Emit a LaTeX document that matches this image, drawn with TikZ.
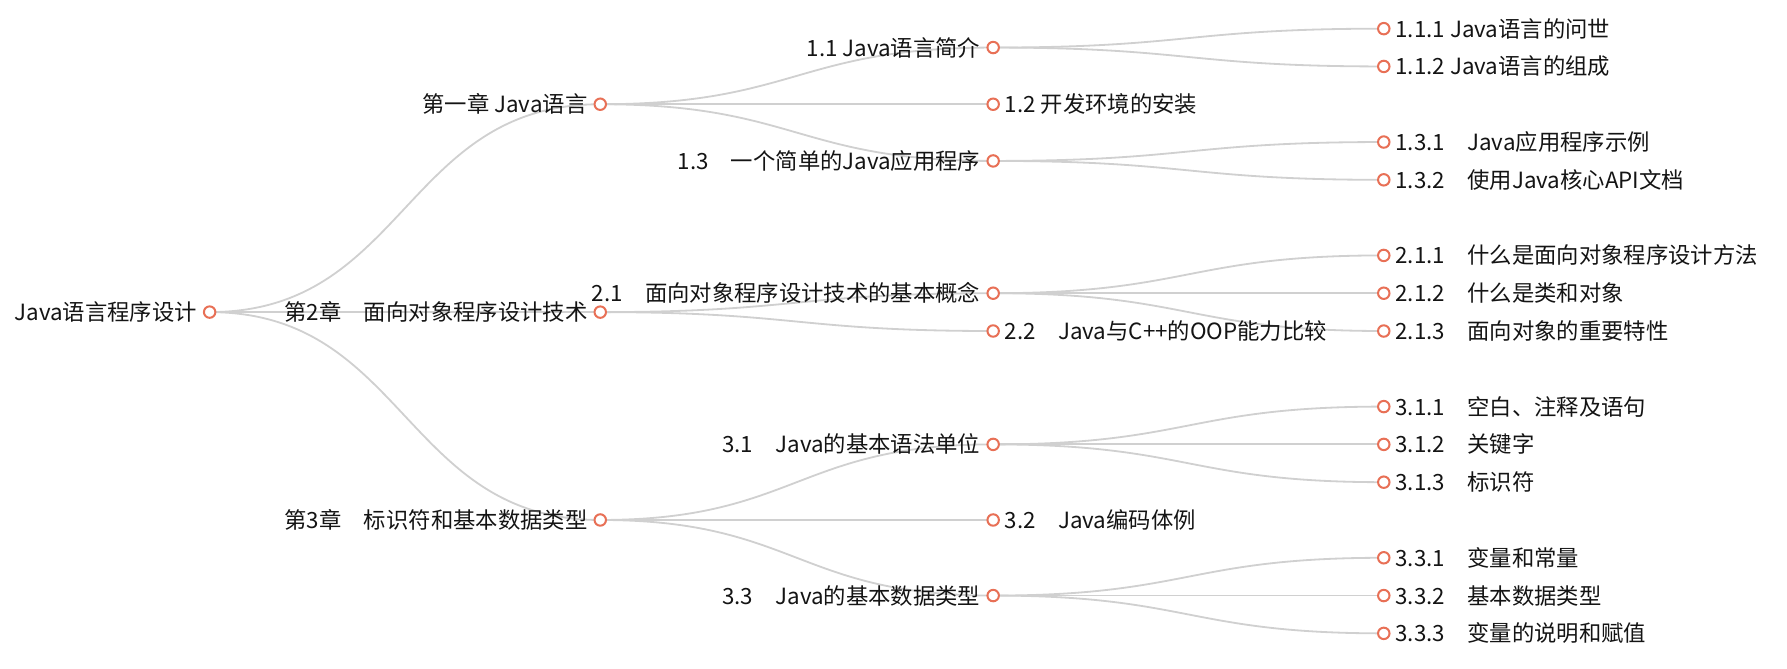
\documentclass[tikz,border=0pt]{standalone}
\usepackage{fontspec}
\setmainfont{Noto Sans CJK SC}
\usepackage{tikz}
\usetikzlibrary{positioning}
\usetikzlibrary{backgrounds}
\tikzstyle{outline} = [x = 0.02cm, y = -0.66cm, every node/.style={font=\fontsize{11.1}{13}\selectfont}]
\definecolor{dotColor}{RGB}{232,112,86}
\definecolor{linkColor}{RGB}{208,208,208}
\definecolor{textColor}{RGB}{20,20,20}
\tikzstyle{dotStyle} = [circle, draw=dotColor, fill=white, line width=1pt, inner sep=0pt, minimum size=0.2cm]
\tikzstyle{linkLine} = [color=linkColor, line width=0.9pt]
\tikzstyle{topicText} = [text=textColor, inner sep=0.1cm]
\newcommand{\half}{171}
\newcommand{\innerTopic}[4]{
  \node [dotStyle] (#1) at (#2,#3) {};
  \node [topicText, left = 0pt of #1] (#1Text) {#4};
}
\newcommand{\leafTopic}[4]{
  \node [dotStyle] (#1) at (#2,#3) {};
  \node [topicText, right = -0.02cm of #1] (#1Text) {#4};
}
\newcommand{\branch}[2]{\draw [linkLine] (#1.center) .. controls +(\half,0) and +(-\half,0) .. (#2.center);}

\begin{document}
\begin{tikzpicture}[outline]
  \useasboundingbox (0,-0.758) rectangle (1560,16.94);
  % root and chapters
  \innerTopic{root}{183}{7.5}{Java语言程序设计}
  \innerTopic{ch1}{524}{2}{第一章 Java语言}
  \innerTopic{ch2}{524}{7.5}{第2章　面向对象程序设计技术}
  \innerTopic{ch3}{524}{13}{第3章　标识符和基本数据类型}
  % sections
  \innerTopic{s11}{867}{0.5}{1.1 Java语言简介}
  \leafTopic{s12}{867}{2}{1.2 开发环境的安装}
  \innerTopic{s13}{867}{3.5}{1.3　一个简单的Java应用程序}
  \innerTopic{s21}{867}{7}{2.1　面向对象程序设计技术的基本概念}
  \leafTopic{s22}{867}{8}{2.2　Java与C++的OOP能力比较}
  \innerTopic{s31}{867}{11}{3.1　Java的基本语法单位}
  \leafTopic{s32}{867}{13}{3.2　Java编码体例}
  \innerTopic{s33}{867}{15}{3.3　Java的基本数据类型}
  % subsections
  \leafTopic{t111}{1208}{0}{1.1.1 Java语言的问世}
  \leafTopic{t112}{1208}{1}{1.1.2 Java语言的组成}
  \leafTopic{t131}{1208}{3}{1.3.1　Java应用程序示例}
  \leafTopic{t132}{1208}{4}{1.3.2　使用Java核心API文档}
  \leafTopic{t211}{1208}{6}{2.1.1　什么是面向对象程序设计方法}
  \leafTopic{t212}{1208}{7}{2.1.2　什么是类和对象}
  \leafTopic{t213}{1208}{8}{2.1.3　面向对象的重要特性}
  \leafTopic{t311}{1208}{10}{3.1.1　空白、注释及语句}
  \leafTopic{t312}{1208}{11}{3.1.2　关键字}
  \leafTopic{t313}{1208}{12}{3.1.3　标识符}
  \leafTopic{t331}{1208}{14}{3.3.1　变量和常量}
  \leafTopic{t332}{1208}{15}{3.3.2　基本数据类型}
  \leafTopic{t333}{1208}{16}{3.3.3　变量的说明和赋值}
  % links
  \begin{scope}[on background layer]
    \foreach \from/\to in {root/ch1, root/ch2, root/ch3,
                           ch1/s11, ch1/s12, ch1/s13, ch2/s21, ch2/s22,
                           ch3/s31, ch3/s32, ch3/s33,
                           s11/t111, s11/t112, s13/t131, s13/t132,
                           s21/t211, s21/t212, s21/t213,
                           s31/t311, s31/t312, s31/t313,
                           s33/t331, s33/t332, s33/t333} {
      \branch{\from}{\to}
    }
  \end{scope}
\end{tikzpicture}
\end{document}
